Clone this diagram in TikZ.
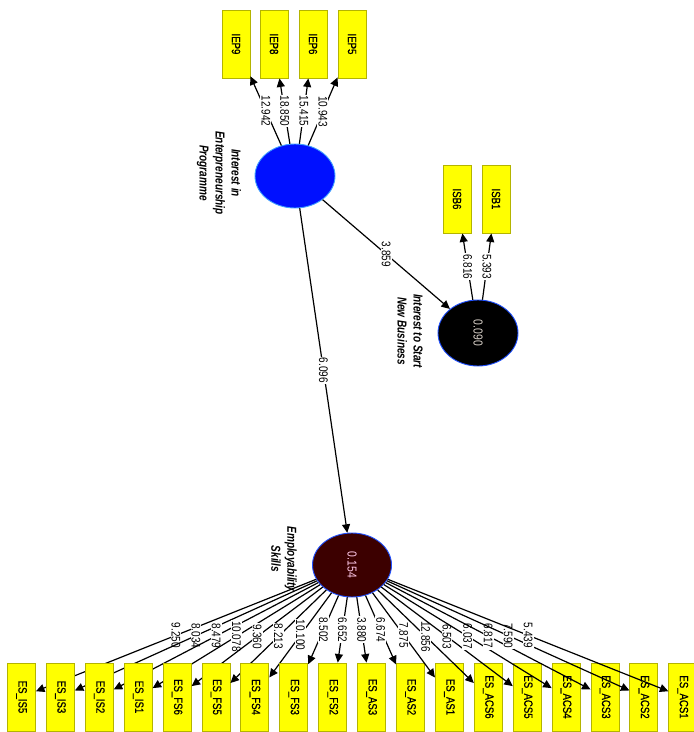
\documentclass[tikz,border=0pt]{standalone}
\usepackage{fontspec}
\setmainfont{Liberation Sans}
\newfontfamily\numfont[FakeStretch=0.8]{Liberation Sans}
\newfontfamily\namefont[FakeStretch=0.77]{Liberation Sans}
\newfontfamily\indfont[FakeStretch=0.8,FakeBold=0.6]{Liberation Sans}
\usetikzlibrary{arrows.meta,shapes.geometric}
\definecolor{indfill}{HTML}{FFFF00}
\definecolor{inddraw}{HTML}{B4B400}
\definecolor{iepblue}{HTML}{0010FF}
\definecolor{esmaroon}{HTML}{3C0000}
\definecolor{rimblue}{HTML}{2050FF}
\definecolor{rimlight}{HTML}{40A0FF}
\definecolor{valpink}{HTML}{FFC8E8}
\definecolor{valgray}{HTML}{D8D0C8}
\newcommand{\indtext}[1]{\rotatebox{-90}{\indfont\fontsize{12}{12}\selectfont #1}}
\newcommand{\lvtext}[2]{\rotatebox{-90}{\color{#1}\numfont\fontsize{13}{13}\selectfont #2}}
\begin{document}
\begin{tikzpicture}[x=1pt,y=-1pt,
  ind/.style={rectangle, draw=inddraw, line width=0.9pt, fill=indfill,
    minimum width=28pt, minimum height=68pt, inner sep=0pt},
  lv/.style={ellipse, line width=0.9pt, minimum width=80pt,
    minimum height=64pt, inner sep=0pt},
  link/.style={line width=1.2pt, -{Triangle[length=8.5pt,width=8pt]}},
  lbl/.style={fill=white, inner sep=1pt, rotate=-90,
    font=\numfont\fontsize{12.5}{12.5}\selectfont},
  lvname/.style={rotate=-90, align=center, inner sep=0pt,
    font=\namefont\bfseries\itshape\fontsize{13}{16}\selectfont}]
\useasboundingbox (0,0) rectangle (694,732);

% latent variables
\node[lv, draw=rimlight, fill=iepblue] (iep) at (295,176) {};
\node[lv, draw=rimblue, fill=black, minimum height=66pt] (isb) at (478,333) {\lvtext{valgray}{0.090}};
\node[lv, draw=rimblue, fill=esmaroon, minimum width=79pt] (es) at (352,565) {\lvtext{valpink}{0.154}};

% latent variable names
\node[lvname] (iepname) at (219,173) {Interest in\\Enterpreneurship\\Programme};
\node[lvname] (isbname) at (410,331) {Interest to Start\\New Business};
\node[lvname] (esname) at (284,559) {Employability\\Skills};

% indicators of Interest in Enterpreneurship Programme
\foreach \nm/\xx/\val in {IEP9/236/12.942, IEP8/274/18.850, IEP6/313/15.415, IEP5/352/10.943}{
  \node[ind] (\nm) at (\xx,44) {\indtext{\nm}};
  \draw[link] (iep) -- node[lbl]{\val} (\nm);
}

% indicators of Interest to Start New Business
\foreach \nm/\xx/\val in {ISB6/457/6.816, ISB1/496/5.393}{
  \node[ind] (\nm) at (\xx,199) {\indtext{\nm}};
  \draw[link] (isb) -- node[lbl]{\val} (\nm);
}

% indicators of Employability Skills
\foreach \nm/\val [count=\i from 0] in {IS5/9.250, IS3/8.034, IS2/8.479, IS1/10.078,
    FS6/9.360, FS5/8.213, FS4/10.100, FS3/8.502, FS2/6.652, AS3/3.880, AS2/6.674,
    AS1/7.875, ACS6/12.856, ACS5/6.503, ACS4/6.037, ACS3/6.817, ACS2/7.590, ACS1/5.439}{
  \node[ind] (es\nm) at ({21.5+38.9*\i},697) {\indtext{ES\_\nm}};
  \draw[link] (es) -- node[lbl]{\val} (es\nm);
}

% structural paths
\draw[link] (iep) -- node[lbl]{3.859} (isb);
\draw[link] (iep) -- node[lbl]{6.096} (es);
\end{tikzpicture}
\end{document}
